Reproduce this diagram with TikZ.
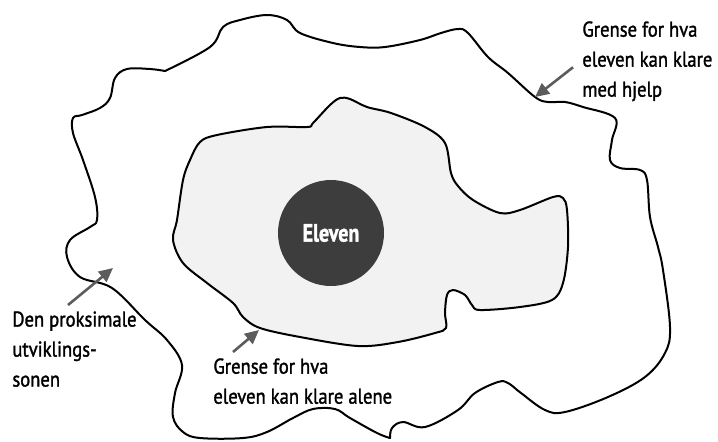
\documentclass[tikz,border=0pt]{standalone}
\usepackage{fontspec}
\setmainfont{PT Sans}[FakeStretch=0.87,FakeBold=1.4]
\usetikzlibrary{arrows.meta,calc}
\definecolor{SoneClr}{gray}{0.95}
\definecolor{ElevClr}{gray}{0.24}
\definecolor{PilClr}{gray}{0.36}

\begin{document}
\begin{tikzpicture}[x=0.5pt,y=-0.5pt,
  grense/.style={line width=1pt,draw=black,line join=round},
  pil/.style={line width=1.3pt,draw=PilClr,-{Triangle[length=7pt,width=6.5pt]}},
  tekst/.style={align=left,inner sep=0pt,anchor=north west,font=\fontsize{10.7}{15}\selectfont}]
\useasboundingbox (0,0) rectangle (718,441);

% ytre grense (med hjelp)
\draw[grense] plot[smooth,tension=.6] coordinates {(165,71) (210,47) (223,27) (240,20)
  (267,15) (287,20) (300,33) (333,43) (360,47) (385,47) (420,40) (441,33) (458,29)
  (468,33) (488,57) (508,73) (535,97) (548,102) (565,102) (583,107) (615,118) (612,140)
  (610,160) (620,168) (640,170) (647,180) (650,217) (658,247) (663,270) (670,327)
  (665,353) (645,377) (608,397) (565,412) (545,410) (521,393) (508,383) (498,382)
  (475,393) (458,410) (425,427) (403,422) (392,428) (390,438)}
  -- plot[smooth,tension=.6] coordinates {(390,438) (377,433) (350,418) (335,409)
  (313,409) (293,418) (267,432) (243,438) (200,438) (183,432) (173,417) (175,393)
  (182,365) (167,340) (145,320) (112,288) (80,277) (67,257) (70,240) (90,227) (97,220)
  (95,197) (83,160) (73,133) (73,118) (82,115) (100,108) (110,98) (115,78) (127,69)
  (150,69) (165,71)} -- cycle;

% indre grense (alene)
\draw[grense,fill=SoneClr] plot[smooth cycle,tension=.55] coordinates {(177,220) (183,180)
  (190,160) (200,142) (217,135) (267,127) (307,127) (313,123) (330,105) (340,98)
  (350,99) (367,107) (391,113) (425,127) (445,143) (451,173) (458,186) (473,200)
  (500,213) (520,210) (553,197) (563,198) (567,210) (568,247) (563,283) (552,300)
  (520,307) (480,310) (472,305) (465,295) (453,290) (447,295) (445,313) (446,328)
  (435,333) (398,342) (358,346) (300,337) (260,328) (243,317) (233,303) (207,283)
  (183,263) (173,240)};

% eleven
\node[circle,fill=ElevClr,minimum size=53pt,inner sep=0pt,text=white,
  font=\addfontfeatures{FakeStretch=0.8}\fontsize{12.5}{15}\bfseries] (elev) at (331,233) {Eleven};

% tekster
\node[tekst] (hjelp) at (582,21) {Grense for hva\\eleven kan klare\\med hjelp};
\node[tekst] (sone) at (12,311) {Den proksimale\\utviklings-\\sonen};
\node[tekst] (alene) at (213,358) {Grense for hva\\eleven kan klare alene};

\coordinate (pHjelp) at (535,97);
\coordinate (pSone) at (113,268);
\coordinate (pAlene) at (259,330);

\draw[pil] ($(hjelp.west)+(-9,6)$) -- (pHjelp);
\draw[pil] ($(sone.north west)+(56,-6)$) -- (pSone);
\draw[pil] ($(alene.north west)+(20,-6)$) -- (pAlene);

\end{tikzpicture}
\end{document}
